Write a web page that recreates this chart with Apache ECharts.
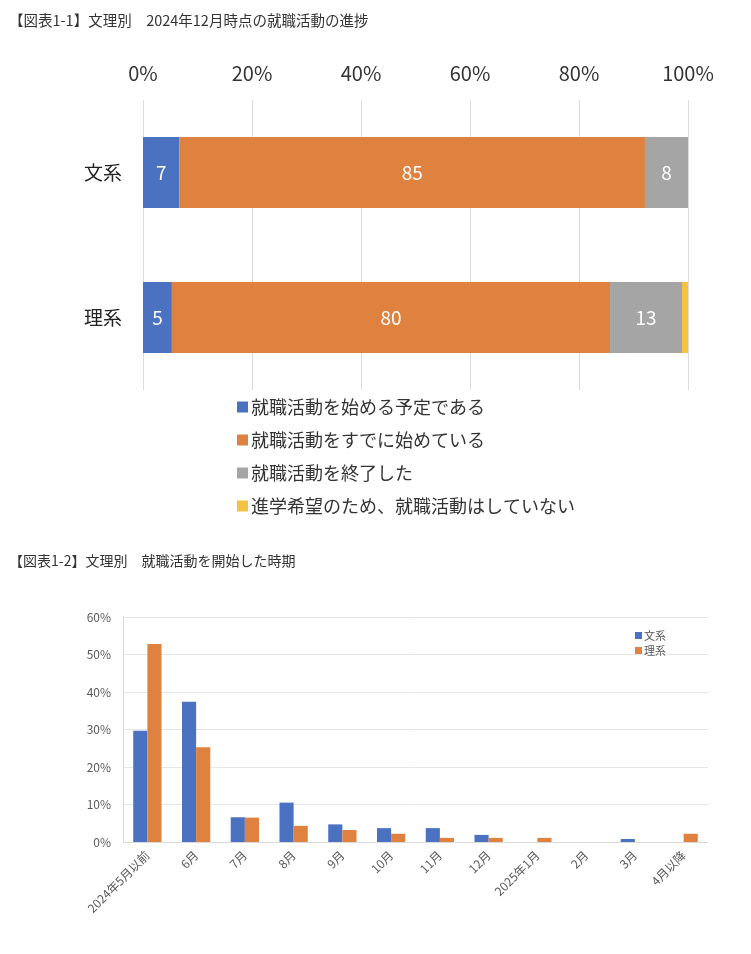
<!DOCTYPE html>
<html><head><meta charset="utf-8">
<script src="https://cdn.jsdelivr.net/npm/echarts@6/dist/echarts.min.js"></script>
<style>html,body{margin:0;padding:0;background:#fff}#c{width:751px;height:954px}</style>
</head><body><div id="c"></div>
<script>
// Chart 1: progress of job hunting (Dec 2024), %
const cats1 = ['文系', '理系'];
const statusNames = ['就職活動を始める予定である', '就職活動をすでに始めている', '就職活動を終了した', '進学希望のため、就職活動はしていない'];
const planned = [6.7, 5.3];
const started = [85.4, 80.4];
const finished = [7.9, 13.2];
const grad = [0, 1.1];
const ticks1 = [0, 20, 40, 60, 80, 100];

// Chart 2: time of starting job hunting, %
const months = ['2024年5月以前', '6月', '7月', '8月', '9月', '10月', '11月', '12月', '2025年1月', '2月', '3月', '4月以降'];
const bunkei = [29.7, 37.4, 6.6, 10.5, 4.7, 3.7, 3.7, 1.9, 0, 0, 0.8, 0];
const rikei = [52.8, 25.3, 6.5, 4.3, 3.2, 2.2, 1.1, 1.1, 1.1, 0, 0, 2.2];

const FONT = '"Noto Sans CJK JP", "Noto Sans", sans-serif';
const colors1 = ['#4A72C0', '#E0823F', '#A5A5A5', '#F5C242'];
const vals1 = [planned, started, finished, grad];

const chart = echarts.init(document.getElementById('c'));
const series1 = statusNames.map((n, i) => ({
  name: n, type: 'bar', stack: 's', xAxisIndex: 0, yAxisIndex: 0,
  data: vals1[i], barWidth: 71,
  itemStyle: { color: colors1[i] },
  label: { show: true, position: 'inside', color: '#fff', fontSize: 19, fontFamily: FONT,
    formatter: p => p.value >= 3 ? Math.round(p.value) : '' }
}));

chart.setOption({
  animation: false,
  textStyle: { fontFamily: FONT },
  title: [
    { text: '【図表1-1】文理別　2024年12月時点の就職活動の進捗', left: 4, top: 8,
      textStyle: { fontSize: 14.5, fontWeight: 'normal', color: '#333', fontFamily: FONT } },
    { text: '【図表1-2】文理別　就職活動を開始した時期', left: 4, top: 549,
      textStyle: { fontSize: 14, fontWeight: 'normal', color: '#333', fontFamily: FONT } }
  ],
  legend: [
    { data: statusNames, orient: 'vertical', left: 232, top: 393, itemWidth: 11, itemHeight: 11, itemGap: 15,
      icon: 'rect', textStyle: { fontSize: 18, color: '#333', fontFamily: FONT, padding: [0,0,0,-2] } },
    { data: ['文系', '理系'], orient: 'vertical', left: 630, top: 625, itemWidth: 7, itemHeight: 7, itemGap: 4,
      icon: 'rect', textStyle: { fontSize: 11, color: '#595959', fontFamily: FONT, padding: [0,0,0,-3] } }
  ],
  grid: [
    { left: 143, right: 63, top: 100, height: 290 },
    { left: 123, right: 43, top: 617, bottom: 112 }
  ],
  xAxis: [
    { gridIndex: 0, type: 'value', position: 'top', min: ticks1[0], max: ticks1[ticks1.length - 1], interval: 20,
      axisLine: { show: false }, axisTick: { show: false },
      axisLabel: { formatter: '{value}%', fontSize: 20, color: '#333', margin: 17, fontFamily: FONT },
      splitLine: { lineStyle: { color: '#dcdcdc' } } },
    { gridIndex: 1, type: 'category', data: months,
      axisLine: { lineStyle: { color: '#d9d9d9' } }, axisTick: { show: false },
      axisLabel: { rotate: 45, interval: 0, fontSize: 12, color: '#595959', margin: 11, fontFamily: FONT } }
  ],
  yAxis: [
    { gridIndex: 0, type: 'category', data: cats1, inverse: true,
      axisLine: { show: false }, axisTick: { show: false },
      axisLabel: { fontSize: 19, color: '#222', margin: 21, fontFamily: FONT } },
    { gridIndex: 1, type: 'value', min: 0, max: 60, interval: 10,
      axisLine: { show: true, lineStyle: { color: '#d9d9d9' } }, axisTick: { show: false },
      axisLabel: { formatter: '{value}%', fontSize: 12, color: '#595959', margin: 12, fontFamily: FONT },
      splitLine: { lineStyle: { color: '#e6e6e6' } } }
  ],
  series: series1.concat([
    { name: '文系', type: 'bar', xAxisIndex: 1, yAxisIndex: 1, data: bunkei, barGap: '0%', barCategoryGap: '42%',
      itemStyle: { color: '#4A72C0' } },
    { name: '理系', type: 'bar', xAxisIndex: 1, yAxisIndex: 1, data: rikei, barGap: '0%', barCategoryGap: '42%',
      itemStyle: { color: '#E0823F' } }
  ])
});
</script></body></html>
